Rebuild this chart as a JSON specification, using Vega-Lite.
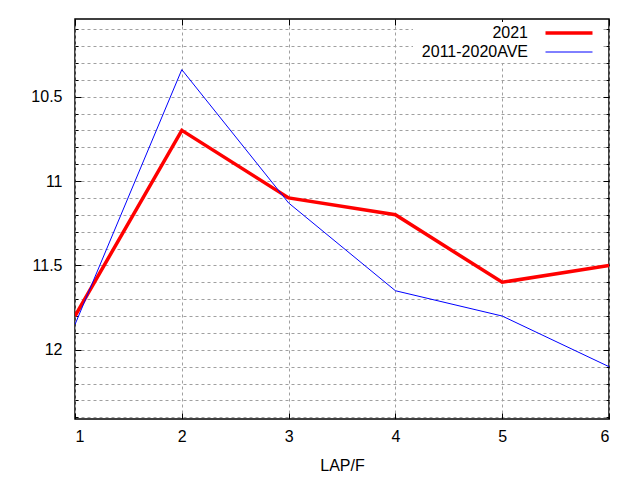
{
  "$schema": "https://vega.github.io/schema/vega-lite/v6.json",
  "width": 534,
  "height": 400,
  "autosize": "none",
  "padding": {"left": 75, "top": 19, "right": 31, "bottom": 61},
  "background": "white",
  "config": {
    "font": "Liberation Sans",
    "view": {"stroke": "black", "strokeWidth": 1.5},
    "axis": {
      "labelFont": "Liberation Sans",
      "labelFontSize": 16,
      "labelColor": "black",
      "titleFont": "Liberation Sans",
      "titleFontSize": 16,
      "titleFontWeight": "normal",
      "titleColor": "black",
      "domain": false,
      "gridColor": "#a0a0a0",
      "gridDash": [3, 3],
      "gridWidth": 1,
      "tickColor": "black",
      "tickWidth": 1
    }
  },
  "data": {
    "values": [
      {"lap": 1, "time": 11.80, "series": "2021"},
      {"lap": 2, "time": 10.70, "series": "2021"},
      {"lap": 3, "time": 11.10, "series": "2021"},
      {"lap": 4, "time": 11.20, "series": "2021"},
      {"lap": 5, "time": 11.60, "series": "2021"},
      {"lap": 6, "time": 11.50, "series": "2021"},
      {"lap": 1, "time": 11.85, "series": "2011-2020AVE"},
      {"lap": 2, "time": 10.34, "series": "2011-2020AVE"},
      {"lap": 3, "time": 11.13, "series": "2011-2020AVE"},
      {"lap": 4, "time": 11.65, "series": "2011-2020AVE"},
      {"lap": 5, "time": 11.80, "series": "2011-2020AVE"},
      {"lap": 6, "time": 12.10, "series": "2011-2020AVE"}
    ]
  },
  "layer": [
    {
      "mark": {"type": "line", "strokeOpacity": 0},
      "encoding": {
        "x": {
          "field": "lap", "type": "quantitative",
          "scale": {"domain": [1, 6], "nice": false, "zero": false},
          "axis": {"orient": "top", "values": [1, 2, 3, 4, 5, 6], "labels": false, "grid": false, "tickSize": -6, "title": null}
        },
        "y": {
          "field": "time", "type": "quantitative",
          "scale": {"domain": [10.04, 12.41], "reverse": true, "nice": false, "zero": false},
          "axis": {"orient": "right", "values": [10.1, 10.2, 10.3, 10.4, 10.6, 10.7, 10.8, 10.9, 11.1, 11.2, 11.3, 11.4, 11.6, 11.7, 11.8, 11.9, 12.1, 12.2, 12.3, 12.4], "labels": false, "grid": false, "tickSize": -3, "title": null}
        },
        "detail": {"field": "series"}
      }
    },
    {
      "mark": {"type": "line", "strokeOpacity": 0},
      "encoding": {
        "x": {"field": "lap", "type": "quantitative", "axis": null},
        "y": {
          "field": "time", "type": "quantitative",
          "axis": {"orient": "right", "values": [10.5, 11, 11.5, 12], "labels": false, "grid": false, "tickSize": -6, "title": null}
        },
        "detail": {"field": "series"}
      }
    },
    {
      "mark": {"type": "line", "strokeOpacity": 0},
      "encoding": {
        "x": {"field": "lap", "type": "quantitative", "axis": null},
        "y": {
          "field": "time", "type": "quantitative",
          "axis": {"orient": "left", "values": [10.5, 11, 11.5, 12], "labels": false, "grid": false, "tickSize": -6, "title": null}
        },
        "detail": {"field": "series"}
      }
    },
    {
      "mark": {"type": "line", "clip": true},
      "encoding": {
        "x": {
          "field": "lap",
          "type": "quantitative",
          "title": "LAP/F",
          "axis": {
            "orient": "bottom",
            "values": [1, 2, 3, 4, 5, 6],
            "format": "d",
            "grid": true,
            "tickSize": -6,
            "labelPadding": 15,
            "titlePadding": 13
          }
        },
        "y": {
          "field": "time",
          "type": "quantitative",
          "title": null,
          "axis": {
            "orient": "left",
            "values": [10.1, 10.2, 10.3, 10.4, 10.5, 10.6, 10.7, 10.8, 10.9, 11, 11.1, 11.2, 11.3, 11.4, 11.5, 11.6, 11.7, 11.8, 11.9, 12, 12.1, 12.2, 12.3, 12.4],
            "labelExpr": "abs(datum.value * 2 - round(datum.value * 2)) < 0.001 ? format(datum.value, '') : ''",
            "grid": true,
            "tickSize": -3,
            "labelPadding": 16
          }
        },
        "color": {
          "field": "series",
          "type": "nominal",
          "scale": {"domain": ["2021", "2011-2020AVE"], "range": ["#ff0000", "#0000ff"]},
          "legend": {
            "orient": "none",
            "legendX": 338,
            "legendY": 3,
            "title": null,
            "symbolType": "M-4,0H4",
            "symbolSize": 138,
            "symbolStrokeWidth": 1,
            "symbolOffset": 145,
            "labelAlign": "right",
            "labelOffset": -49,
            "labelFont": "Liberation Sans",
            "labelFontSize": 16,
            "labelColor": "black",
            "rowPadding": 3,
            "padding": 3,
            "fillColor": "white",
            "encode": {
              "symbols": {"update": {"strokeWidth": {"signal": "datum.value === '2021' ? 3.5 : 1"}}}
            }
          }
        },
        "strokeWidth": {
          "field": "series",
          "type": "nominal",
          "scale": {"domain": ["2021", "2011-2020AVE"], "range": [3.5, 1]},
          "legend": null
        }
      }
    }
  ],
  "resolve": {"axis": {"x": "independent", "y": "independent"}}
}
